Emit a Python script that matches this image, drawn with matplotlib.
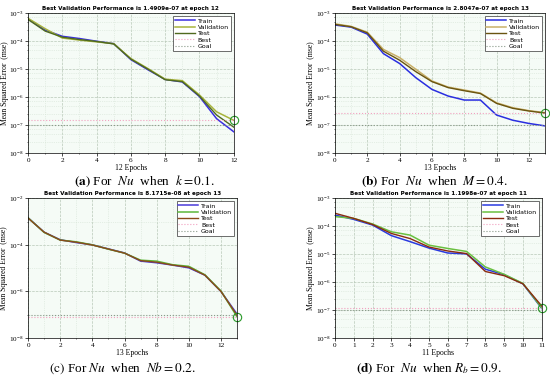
import numpy as np
import matplotlib
matplotlib.use('Agg')
import matplotlib.pyplot as plt
from matplotlib.ticker import LogLocator, MultipleLocator, FixedLocator, NullFormatter

plt.rcParams['mathtext.fontset'] = 'stix'
plt.rcParams['font.family'] = ['Liberation Serif', 'DejaVu Serif']

# panel (a): k = 0.1, 12 epochs
ep_a = list(range(13))
train_a = [6.3e-4, 2.5e-4, 1.5e-4, 1.25e-4, 1.0e-4, 8.2e-5, 2.2e-5, 9.5e-6, 4.3e-6, 3.5e-6, 1.05e-6, 1.7e-7, 5.8e-8]
val_a = [6.6e-4, 2.8e-4, 1.3e-4, 1.1e-4, 9.5e-5, 8.2e-5, 2.4e-5, 1.05e-5, 4.4e-6, 3.9e-6, 1.2e-6, 3.0e-7, 1.49e-7]
test_a = [6.0e-4, 2.3e-4, 1.4e-4, 1.15e-4, 9.8e-5, 8.0e-5, 2.3e-5, 1.0e-5, 4.2e-6, 3.6e-6, 1.1e-6, 2.3e-7, 8.5e-8]

# panel (b): M = 0.4, 13 epochs
ep_b = list(range(14))
train_b = [3.8e-4, 3.2e-4, 1.8e-4, 3.6e-5, 1.6e-5, 5.0e-6, 1.9e-6, 1.1e-6, 7.9e-7, 7.9e-7, 2.3e-7, 1.5e-7, 1.15e-7, 9.4e-8]
val_b = [4.2e-4, 3.4e-4, 2.1e-4, 5.1e-5, 2.6e-5, 1.0e-5, 3.8e-6, 2.3e-6, 1.8e-6, 1.4e-6, 6.3e-7, 4.2e-7, 3.3e-7, 2.8e-7]
test_b = [4.0e-4, 3.3e-4, 2.0e-4, 4.4e-5, 2.1e-5, 8.2e-6, 3.6e-6, 2.2e-6, 1.7e-6, 1.35e-6, 6.0e-7, 4.0e-7, 3.2e-7, 2.7e-7]

# panel (c): Nb = 0.2, 13 epochs
ep_c = list(range(14))
train_c = [1.45e-3, 3.5e-4, 1.65e-4, 1.25e-4, 1.0e-4, 6.7e-5, 4.5e-5, 2.0e-5, 1.7e-5, 1.35e-5, 1.03e-5, 5.0e-6, 1.0e-6, 1.07e-7]
val_c = [1.45e-3, 3.4e-4, 1.6e-4, 1.35e-4, 1.0e-4, 6.5e-5, 4.4e-5, 2.2e-5, 2.0e-5, 1.4e-5, 1.2e-5, 5.2e-6, 1.05e-6, 8.17e-8]
test_c = [1.4e-3, 3.5e-4, 1.6e-4, 1.3e-4, 9.8e-5, 6.6e-5, 4.4e-5, 2.1e-5, 1.8e-5, 1.35e-5, 1.1e-5, 5.0e-6, 1.0e-6, 9.5e-8]

# panel (d): Rb = 0.9, 11 epochs
ep_d = list(range(12))
train_d = [2.5e-4, 1.75e-4, 1.1e-4, 4.6e-5, 2.8e-5, 1.65e-5, 1.1e-5, 1.02e-5, 2.9e-6, 1.85e-6, 8.7e-7, 1.15e-7]
val_d = [2.2e-4, 1.9e-4, 1.2e-4, 6.3e-5, 4.8e-5, 2.1e-5, 1.6e-5, 1.25e-5, 3.5e-6, 1.9e-6, 9.0e-7, 1.2e-7]
test_d = [2.9e-4, 1.9e-4, 1.15e-4, 5.5e-5, 3.6e-5, 1.8e-5, 1.3e-5, 1.05e-5, 2.4e-6, 1.7e-6, 8.7e-7, 1.4e-7]

titles = ['Best Validation Performance is 1.4909e-07 at epoch 12',
          'Best Validation Performance is 2.8047e-07 at epoch 13',
          'Best Validation Performance is 8.1715e-08 at epoch 13',
          'Best Validation Performance is 1.1998e-07 at epoch 11']
best_vals = [1.4909e-07, 2.8047e-07, 8.1715e-08, 1.1998e-07]
best_eps = [12, 13, 13, 11]
goal = 1e-7
captions = [r'$\mathbf{(a)}$ For  $Nu$  when  $k=0.1$.',
            r'$\mathbf{(b)}$ For  $Nu$  when  $M=0.4$.',
            r'$\mathrm{(c)}$ For $Nu$  when  $Nb=0.2$.',
            r'$\mathbf{(d)}$ For  $Nu$  when $R_b=0.9$.']

colors = [('#3a2ee0', '#a8b43c', '#4f6a1e'),
          ('#2a2ee0', '#c9b068', '#6a5410'),
          ('#4a3ad8', '#5cb83a', '#8a4a1a'),
          ('#2a3ae0', '#6ac040', '#8a2a10')]

panels = [(ep_a, train_a, val_a, test_a, 1e-3),
          (ep_b, train_b, val_b, test_b, 1e-3),
          (ep_c, train_c, val_c, test_c, 1e-2),
          (ep_d, train_d, val_d, test_d, 1e-3)]

rects = [[0.051, 0.596, 0.374, 0.369],
         [0.609, 0.596, 0.382, 0.369],
         [0.051, 0.108, 0.380, 0.369],
         [0.609, 0.108, 0.376, 0.369]]
cap_pos = [(0.262, 0.513), (0.79, 0.513), (0.222, 0.018), (0.78, 0.018)]

fig = plt.figure(figsize=(5.5, 3.79), dpi=100)

for i, (ep, tr, va, te, ytop) in enumerate(panels):
    ax = fig.add_axes(rects[i])
    ax.set_facecolor('#f5fbf6')
    ct, cv, cte = colors[i]
    ax.semilogy(ep, tr, color=ct, lw=1.1, label='Train')
    ax.semilogy(ep, va, color=cv, lw=1.1, label='Validation')
    ax.semilogy(ep, te, color=cte, lw=1.0, label='Test')
    ax.axhline(best_vals[i], color='#f2a0c0', ls=':', lw=0.8, label='Best')
    ax.axvline(best_eps[i], color='#f2a0c0', ls=':', lw=0.8)
    ax.axhline(goal, color='#8a9a8a', ls=':', lw=0.8, label='Goal')
    ax.plot(best_eps[i], best_vals[i], 'o', ms=6, mfc='none', mec='#2a9a2a', mew=0.8, clip_on=False)
    ax.set_xlim(0, ep[-1])
    ax.set_ylim(1e-8, ytop)
    if i == 3:
        ax.xaxis.set_major_locator(MultipleLocator(1))
    else:
        ax.xaxis.set_major_locator(MultipleLocator(2))
        ax.xaxis.set_minor_locator(MultipleLocator(1))
    if i == 2:
        ax.yaxis.set_major_locator(FixedLocator([1e-8, 1e-6, 1e-4, 1e-2]))
        ax.yaxis.set_minor_locator(FixedLocator([1e-7, 1e-5, 1e-3]))
    else:
        ax.yaxis.set_major_locator(LogLocator(base=10, numticks=10))
        ax.yaxis.set_minor_locator(LogLocator(base=10, subs=[2.5, 5, 7.5], numticks=10))
    ax.yaxis.set_minor_formatter(NullFormatter())
    ax.grid(True, which='major', color='#b8c8b8', ls='--', lw=0.5)
    ax.grid(True, which='minor', color='#d4e2d4', ls=':', lw=0.5)
    ax.tick_params(labelsize=5.2, length=2, width=0.5, pad=1.5)
    ax.tick_params(which='minor', length=1, width=0.4)
    for s in ax.spines.values():
        s.set_linewidth(0.5)
    ax.set_title(titles[i], fontsize=4.1, fontweight='bold', family='DejaVu Sans', pad=2)
    ax.set_xlabel('%d Epochs' % ep[-1], fontsize=5.5, labelpad=1)
    ax.set_ylabel('Mean Squared Error  (mse)', fontsize=5.5, labelpad=1)
    ax.yaxis.set_label_coords(-0.095, 0.5)
    leg = ax.legend(loc='upper right', frameon=True, fancybox=False,
                    edgecolor='#333333', framealpha=1, handlelength=3.2,
                    borderpad=0.3, labelspacing=0.15, handletextpad=0.4,
                    prop={'family': 'DejaVu Sans', 'size': 4.5})
    leg.get_frame().set_linewidth(0.5)
    fig.text(cap_pos[i][0], cap_pos[i][1], captions[i], ha='center', fontsize=9.5)

plt.savefig('out.png', dpi=100)
